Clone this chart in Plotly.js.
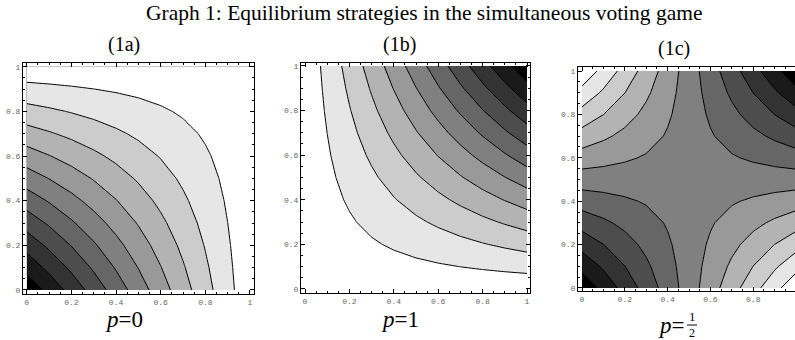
<!DOCTYPE html>
<html>
<head>
<meta charset="utf-8">
<script src="https://cdn.plot.ly/plotly-3.0.1.min.js"></script>
<style>
  html, body { margin: 0; padding: 0; background: #fff; }
  #chart { width: 795px; height: 340px; }
</style>
</head>
<body>
<div id="chart"></div>
<script>
// ---------- data ----------
const GRID = [0, 0.1, 0.2, 0.3, 0.4, 0.5, 0.6, 0.7, 0.8, 0.9, 1];

// (1a) p=0 : rows by y (0 .. 1), columns by x (0 .. 1)
const Z_1A = [
  [0.00, 0.10, 0.20, 0.30, 0.40, 0.50, 0.60, 0.70, 0.80, 0.90, 1.00],
  [0.10, 0.19, 0.28, 0.37, 0.46, 0.55, 0.64, 0.73, 0.82, 0.91, 1.00],
  [0.20, 0.28, 0.36, 0.44, 0.52, 0.60, 0.68, 0.76, 0.84, 0.92, 1.00],
  [0.30, 0.37, 0.44, 0.51, 0.58, 0.65, 0.72, 0.79, 0.86, 0.93, 1.00],
  [0.40, 0.46, 0.52, 0.58, 0.64, 0.70, 0.76, 0.82, 0.88, 0.94, 1.00],
  [0.50, 0.55, 0.60, 0.65, 0.70, 0.75, 0.80, 0.85, 0.90, 0.95, 1.00],
  [0.60, 0.64, 0.68, 0.72, 0.76, 0.80, 0.84, 0.88, 0.92, 0.96, 1.00],
  [0.70, 0.73, 0.76, 0.79, 0.82, 0.85, 0.88, 0.91, 0.94, 0.97, 1.00],
  [0.80, 0.82, 0.84, 0.86, 0.88, 0.90, 0.92, 0.94, 0.96, 0.98, 1.00],
  [0.90, 0.91, 0.92, 0.93, 0.94, 0.95, 0.96, 0.97, 0.98, 0.99, 1.00],
  [1.00, 1.00, 1.00, 1.00, 1.00, 1.00, 1.00, 1.00, 1.00, 1.00, 1.00]
];

// (1b) p=1
const Z_1B = [
  [1.00, 1.00, 1.00, 1.00, 1.00, 1.00, 1.00, 1.00, 1.00, 1.00, 1.00],
  [1.00, 0.99, 0.98, 0.97, 0.96, 0.95, 0.94, 0.93, 0.92, 0.91, 0.90],
  [1.00, 0.98, 0.96, 0.94, 0.92, 0.90, 0.88, 0.86, 0.84, 0.82, 0.80],
  [1.00, 0.97, 0.94, 0.91, 0.88, 0.85, 0.82, 0.79, 0.76, 0.73, 0.70],
  [1.00, 0.96, 0.92, 0.88, 0.84, 0.80, 0.76, 0.72, 0.68, 0.64, 0.60],
  [1.00, 0.95, 0.90, 0.85, 0.80, 0.75, 0.70, 0.65, 0.60, 0.55, 0.50],
  [1.00, 0.94, 0.88, 0.82, 0.76, 0.70, 0.64, 0.58, 0.52, 0.46, 0.40],
  [1.00, 0.93, 0.86, 0.79, 0.72, 0.65, 0.58, 0.51, 0.44, 0.37, 0.30],
  [1.00, 0.92, 0.84, 0.76, 0.68, 0.60, 0.52, 0.44, 0.36, 0.28, 0.20],
  [1.00, 0.91, 0.82, 0.73, 0.64, 0.55, 0.46, 0.37, 0.28, 0.19, 0.10],
  [1.00, 0.90, 0.80, 0.70, 0.60, 0.50, 0.40, 0.30, 0.20, 0.10, 0.00]
];

// (1c) p=1/2
const Z_1C = [
  [0.00, 0.10, 0.20, 0.30, 0.40, 0.50, 0.60, 0.70, 0.80, 0.90, 1.00],
  [0.10, 0.18, 0.26, 0.34, 0.42, 0.50, 0.58, 0.66, 0.74, 0.82, 0.90],
  [0.20, 0.26, 0.32, 0.38, 0.44, 0.50, 0.56, 0.62, 0.68, 0.74, 0.80],
  [0.30, 0.34, 0.38, 0.42, 0.46, 0.50, 0.54, 0.58, 0.62, 0.66, 0.70],
  [0.40, 0.42, 0.44, 0.46, 0.48, 0.50, 0.52, 0.54, 0.56, 0.58, 0.60],
  [0.50, 0.50, 0.50, 0.50, 0.50, 0.50, 0.50, 0.50, 0.50, 0.50, 0.50],
  [0.60, 0.58, 0.56, 0.54, 0.52, 0.50, 0.48, 0.46, 0.44, 0.42, 0.40],
  [0.70, 0.66, 0.62, 0.58, 0.54, 0.50, 0.46, 0.42, 0.38, 0.34, 0.30],
  [0.80, 0.74, 0.68, 0.62, 0.56, 0.50, 0.44, 0.38, 0.32, 0.26, 0.20],
  [0.90, 0.82, 0.74, 0.66, 0.58, 0.50, 0.42, 0.34, 0.26, 0.18, 0.10],
  [1.00, 0.90, 0.80, 0.70, 0.60, 0.50, 0.40, 0.30, 0.20, 0.10, 0.00]
];

// contour levels seen on the axes: 0.07, 0.17, 0.26, ... 0.93
const LEVEL_START = 0.07;
const LEVEL_END = 0.931;
const LEVEL_STEP = 0.0956;

const TICKS = [0, 0.2, 0.4, 0.6, 0.8, 1];
const TICK_LABELS = ['0', '0.2', '0.4', '0.6', '0.8', '1'];

const MAIN_TITLE = 'Graph 1: Equilibrium strategies in the simultaneous voting game';
const PANEL_TITLES = ['(1a)', '(1b)', '(1c)'];
const P_LABELS = ['<i>p</i>=0', '<i>p</i>=1', '<i>p</i>='];

// ---------- drawing ----------
const GRAY = [[0, '#000000'], [1, '#ffffff']];

function contourTrace(z, xa, ya) {
  return {
    type: 'contour',
    x: GRID, y: GRID, z: z,
    xaxis: xa, yaxis: ya,
    colorscale: GRAY,
    showscale: false,
    autocontour: false,
    contours: { start: LEVEL_START, end: LEVEL_END, size: LEVEL_STEP, coloring: 'fill' },
    line: { color: '#000', width: 1, smoothing: 0 },
    hoverinfo: 'skip'
  };
}

function axis(anchor, domain, range, mirror) {
  return {
    anchor: anchor,
    domain: domain, range: range,
    showline: true, linecolor: '#000', linewidth: 1,
    mirror: mirror,
    ticks: 'inside', ticklen: 4, tickwidth: 1, tickcolor: '#000',
    tickvals: TICKS, ticktext: TICK_LABELS,
    tickfont: { family: 'Liberation Mono, DejaVu Sans Mono, monospace', size: 8, color: '#666' },
    minor: { dtick: 0.05, tick0: 0, ticks: 'inside', ticklen: 2, tickwidth: 1, tickcolor: '#000', showgrid: false },
    showgrid: false, zeroline: false, fixedrange: true
  };
}

const W = 795, H = 340;
const px = v => v / W;
const py = v => 1 - v / H;

const data = [
  contourTrace(Z_1A, 'x', 'y'),
  contourTrace(Z_1B, 'x2', 'y2'),
  contourTrace(Z_1C, 'x3', 'y3')
];

const serif = 'Liberation Serif, Times New Roman, serif';

function label(text, x, y, size, xanchor) {
  return { text: text, xref: 'paper', yref: 'paper', x: px(x), y: py(y), showarrow: false,
    font: { family: serif, size: size, color: '#000' }, xanchor: xanchor || 'center', yanchor: 'middle' };
}

const layout = {
  width: W, height: H,
  margin: { l: 0, r: 0, t: 0, b: 0 },
  paper_bgcolor: '#fff', plot_bgcolor: '#fff',
  showlegend: false,
  xaxis:  axis('y',  [px(23), px(254)], [-0.0166, 1.018], 'allticks'),
  yaxis:  axis('x',  [py(294), py(62.7)], [-0.018, 1.018], 'allticks'),
  xaxis2: axis('y2', [px(301), px(530)], [-0.018, 1.0135], 'allticks'),
  yaxis2: axis('x2', [py(293), py(63)], [-0.018, 1.013], 'allticks'),
  xaxis3: axis('y3', [px(578), 1], [-0.0187, 0.995], 'allticks'),
  yaxis3: axis('x3', [py(291), py(66.7)], [-0.014, 1.02], false),
  annotations: [
    label(MAIN_TITLE, 424, 13, 21.5),
    label(PANEL_TITLES[0], 124, 45, 20),
    label(PANEL_TITLES[1], 399, 45, 20),
    label(PANEL_TITLES[2], 674, 49, 20),
    label(P_LABELS[0], 124, 319, 23),
    label(P_LABELS[1], 400, 319, 23),
    label(P_LABELS[2], 686, 325, 23, 'right'),
    label('1', 692, 316.5, 13),
    label('2', 692, 333, 12)
  ],
  shapes: [
    { type: 'line', xref: 'paper', yref: 'paper', x0: px(687), x1: px(697), y0: py(325), y1: py(325),
      line: { color: '#000', width: 1 } }
  ]
};

Plotly.newPlot('chart', data, layout, { staticPlot: true, displayModeBar: false });
</script>
</body>
</html>
